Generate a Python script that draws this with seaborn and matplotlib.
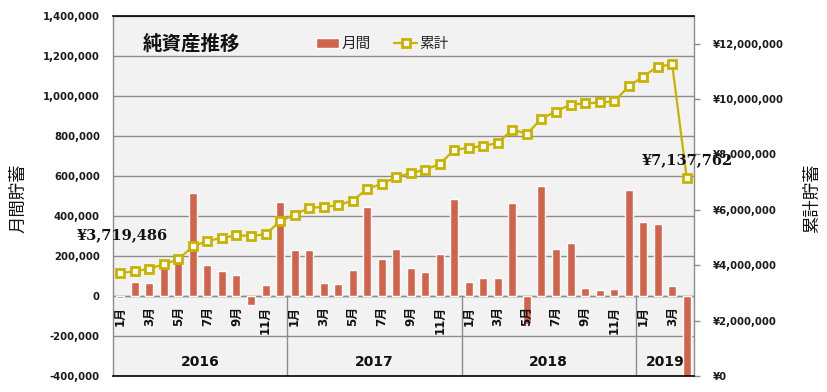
import numpy as np
import pandas as pd
import matplotlib
matplotlib.use("Agg")
import matplotlib.pyplot as plt
import matplotlib.transforms as mtransforms
from matplotlib.patches import Rectangle
import seaborn as sns

# ---------------- data ----------------
years = ["2016", "2017", "2018", "2019"]
months_per_year = [12, 12, 12, 4]
month_tick_labels = ["1月", "", "3月", "", "5月", "", "7月", "", "9月", "", "11月", ""]

monthly = [
    -8000, 70000, 65000, 185000, 175000, 515000, 155000, 127000, 107000, -43000, 55000, 470000,
    230000, 230000, 65000, 60000, 130000, 445000, 185000, 235000, 140000, 120000, 210000, 485000,
    70000, 90000, 90000, 465000, -140000, 550000, 235000, 265000, 40000, 30000, 35000, 530000,
    370000, 360000, 50000, -4113000,
]
cumulative = [
    3719486, 3780000, 3876000, 4033000, 4214000, 4684000, 4877000, 4985000, 5081000, 5057000, 5118000, 5587000,
    5828000, 6069000, 6106000, 6166000, 6334000, 6756000, 6937000, 7178000, 7335000, 7443000, 7660000, 8166000,
    8238000, 8310000, 8419000, 8901000, 8744000, 9298000, 9551000, 9804000, 9841000, 9877000, 9913000, 10455000,
    10815000, 11175000, 11250000, 7137762,
]
left_ticks = [-400000, -200000, 0, 200000, 400000, 600000, 800000, 1000000, 1200000, 1400000]
right_ticks = [0, 2000000, 4000000, 6000000, 8000000, 10000000, 12000000]

series_names = ["月間", "累計"]
title = "純資産推移"
left_label = "月間貯蓄"
right_label = "累計貯蓄"

# ---------------- style ----------------
bar_color = "#D1644B"
line_color = "#C9B300"
grid_color = "#8C8C8C"
bg_color = "#F2F2F2"
cjk = ["Noto Sans CJK JP", "DejaVu Sans"]

sns.set_theme(style="white")
plt.rcParams["font.family"] = ["DejaVu Sans", "Noto Sans CJK JP"]

W, H = 828, 392
fig = plt.figure(figsize=(W / 100, H / 100), dpi=100)
fig.patch.set_facecolor("white")
L, R, T, B = 113, 694, 16, 376
ax = fig.add_axes([L / W, (H - B) / H, (R - L) / W, (B - T) / H])
ax.set_facecolor(bg_color)

n = len(monthly)
month_labels = []
for k in months_per_year:
    month_labels += month_tick_labels[:k]
df = pd.DataFrame({"idx": np.arange(n), "monthly": monthly, "cum": cumulative})

# bars
sns.barplot(data=df, x="idx", y="monthly", color=bar_color, saturation=1,
            width=0.55, ax=ax, zorder=3)
ax.set_xlim(-0.5, n - 0.5)
ax.set_ylim(left_ticks[0], left_ticks[-1])
ax.set_xlabel("")
ax.set_ylabel("")
ax.set_xticks([])
ax.set_yticks(left_ticks, labels=[f"{v:,}" for v in left_ticks],
              fontweight="bold", fontsize=7.3, color="#1a1a1a")
ax.tick_params(axis="y", length=0, pad=9.4)
ax.grid(axis="y", color=grid_color, lw=1, zorder=0)
ax.set_axisbelow(True)
for s in ax.spines.values():
    s.set_visible(False)

# category axis line at zero and year separators
ax.axhline(0, color=grid_color, lw=1, zorder=2)
bounds = np.cumsum(months_per_year)[:-1] - 0.5
ax.vlines(bounds, left_ticks[0], 0, color=grid_color, lw=1, zorder=2)

# month labels (clipped to the month row)
clip_rect = Rectangle((-0.5, left_ticks[1]), n, -left_ticks[1], transform=ax.transData)
off = mtransforms.ScaledTranslation(0, -10 / 100, fig.dpi_scale_trans)
for i, lab in enumerate(month_labels):
    if lab:
        t = ax.text(i, 0, lab, rotation=90, ha="center", va="top",
                    fontsize=8.5, fontweight="bold", color="#111111",
                    transform=ax.transData + off, zorder=4)
        t.set_clip_path(clip_rect)

# year labels
start = 0
for y, k in zip(years, months_per_year):
    ax.text(start + (k - 1) / 2, -330000, y, ha="center", va="center",
            fontsize=10, fontweight="bold", color="#111111", zorder=4)
    start += k

# cumulative line
ax2 = ax.twinx()
sns.lineplot(data=df, x="idx", y="cum", ax=ax2, color=line_color, lw=1.6,
             marker="s", markersize=5.2, markerfacecolor="white",
             markeredgecolor=line_color, markeredgewidth=2.0, zorder=5)
ax2.set_xlim(-0.5, n - 0.5)
ax2.set_ylim(0, 13000000)
ax2.set_xlabel("")
ax2.set_ylabel("")
ax2.set_yticks(right_ticks, labels=[f"¥{v:,}" for v in right_ticks],
               fontweight="bold", fontsize=7.3, color="#1a1a1a")
ax2.tick_params(axis="y", right=True, length=4, width=1, color=grid_color, pad=9.5)
ax2.spines["top"].set_color("black")
ax2.spines["bottom"].set_color("black")
ax2.spines["left"].set_color(grid_color)
ax2.spines["right"].set_color(grid_color)
for s in ax2.spines.values():
    s.set_linewidth(1.2)
ax2.spines["left"].set_linewidth(1)
ax2.spines["right"].set_linewidth(1)

# value annotations
ann_kw = dict(textcoords="offset pixels", ha="center", va="center",
              fontfamily="DejaVu Serif", fontweight="bold", fontsize=10.5,
              color="#111111", zorder=6, annotation_clip=False)
ax2.annotate(f"¥{cumulative[0]:,}", xy=(0, cumulative[0]), xytext=(2, 38), **ann_kw)
ax2.annotate(f"¥{cumulative[-1]:,}", xy=(n - 1, cumulative[-1]), xytext=(1, 18), **ann_kw)

# legend
handles = [ax.patches[0], ax2.lines[0]]
leg = fig.legend(handles, series_names, loc="center left",
                 bbox_to_anchor=(310 / W, 1 - 44 / H), ncol=2, frameon=False,
                 prop={"family": cjk, "size": 10.5}, handlelength=1.6,
                 handletextpad=0.15, columnspacing=1.6, borderaxespad=0)

# title and axis titles
fig.text(143 / W, 1 - 44 / H, title, ha="left", va="center",
         fontsize=14, fontweight="bold", family=cjk, color="#111111")
fig.text(18 / W, 1 - 198 / H, left_label, rotation=90, ha="center", va="center",
         fontsize=12.5, family=cjk, color="#111111")
fig.text(812 / W, 1 - 198 / H, right_label, rotation=90, ha="center", va="center",
         fontsize=12.5, family=cjk, color="#111111")

fig.savefig("out.png", dpi=100)
